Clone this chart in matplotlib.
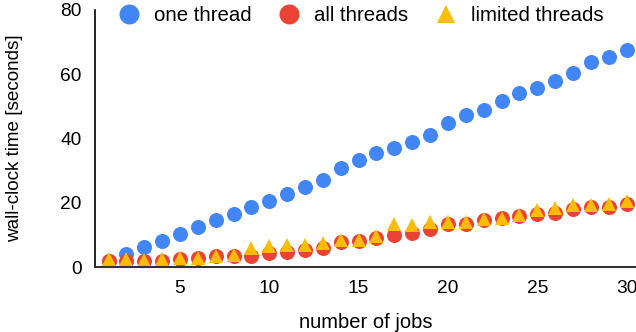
import matplotlib
matplotlib.use("Agg")
import matplotlib.pyplot as plt

plt.rcParams['font.family'] = ['Liberation Sans', 'DejaVu Sans']

# data
jobs = list(range(1, 31))
one_thread = [2.0, 4.2, 6.2, 8.2, 10.3, 12.4, 14.6, 16.7, 18.6, 20.6,
              22.8, 25.0, 27.0, 30.9, 33.3, 35.5, 37.0, 38.9, 41.1, 44.9,
              47.2, 49.0, 51.6, 54.3, 55.7, 58.0, 60.4, 63.8, 65.3, 67.6]
all_threads = [2.1, 2.1, 2.0, 1.9, 2.5, 2.8, 3.4, 3.6, 3.6, 4.4,
               4.9, 5.4, 5.9, 7.8, 8.2, 9.1, 10.1, 10.7, 11.8, 13.5,
               13.5, 14.7, 15.3, 16.0, 16.5, 16.8, 18.1, 18.8, 18.9, 19.8]
limited_threads = [2.5, 2.5, 2.4, 2.5, 2.8, 3.0, 3.6, 3.8, 6.0, 6.5,
                   6.8, 6.8, 7.4, 8.4, 8.6, 9.6, 13.5, 13.3, 14.0, 14.0,
                   14.0, 14.9, 15.4, 16.3, 17.9, 18.3, 19.3, 19.5, 19.7, 20.5]
xticks = [5, 10, 15, 20, 25, 30]
yticks = [0, 20, 40, 60, 80]

BLUE = '#4285F4'
RED = '#EA4335'
YELLOW = '#FBBC04'

fig = plt.figure(figsize=(6.36, 3.32), dpi=100)
ax = fig.add_axes([95 / 636, (332 - 267.3) / 332, 541 / 636, 257.3 / 332])

ax.plot(jobs, one_thread, 'o', color=BLUE, ms=10.8, mew=0, label='one thread')
ax.plot(jobs, all_threads, 'o', color=RED, ms=10.8, mew=0, label='all threads')
ax.plot(jobs, limited_threads, '^', color=YELLOW, ms=9.6, mew=0, label='limited threads')

ax.set_xlim(0.24, 30.53)
ax.set_ylim(0, 80)
ax.set_xticks(xticks)
ax.set_yticks(yticks)
ax.tick_params(length=0, labelsize=13.8, pad=9.5)

for side in ('top', 'right'):
    ax.spines[side].set_visible(False)
ax.spines['left'].set_linewidth(1.2)
ax.spines['left'].set_color('black')
ax.spines['bottom'].set_linewidth(1.5)
ax.spines['bottom'].set_color('#333333')

ax.set_xlabel('number of jobs', fontsize=14.5, va='center')
ax.xaxis.set_label_coords(0.5, -0.213)
ax.set_ylabel('wall-clock time [seconds]', fontsize=13.6, va='center')
ax.yaxis.set_label_coords(-0.148, 0.5)

ax.legend(loc='center', bbox_to_anchor=(0.492, 0.978), ncol=3, frameon=False,
          fontsize=14.7, markerscale=1.33, handlelength=1.0,
          handletextpad=0.72, columnspacing=1.35, borderaxespad=0)

fig.savefig('out.png', dpi=100)
